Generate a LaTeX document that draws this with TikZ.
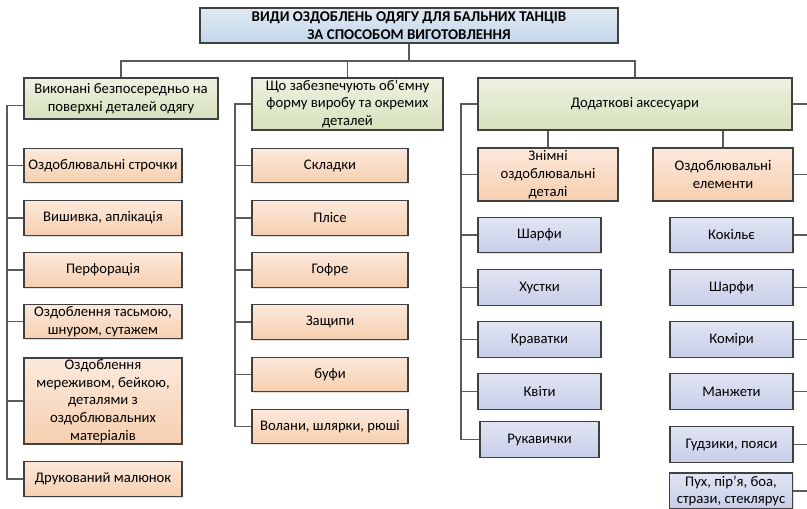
\documentclass[tikz,border=0pt]{standalone}
\usepackage{fontspec}
\setmainfont{Carlito}
\usetikzlibrary{shadows}

\begin{document}
\begin{tikzpicture}[x=0.75pt,y=-0.75pt]

\definecolor{bordercolor}{HTML}{404040}
\definecolor{linecolor}{HTML}{5A5A5A}
\definecolor{ttop}{HTML}{E0E9F3}
\definecolor{tbot}{HTML}{C3D6EA}
\definecolor{gtop}{HTML}{EDF2E1}
\definecolor{gbot}{HTML}{D6E1BC}
\definecolor{otop}{HTML}{FCE9DC}
\definecolor{obot}{HTML}{F6CFAF}
\definecolor{btop}{HTML}{E0E4F3}
\definecolor{bbot}{HTML}{C7CEE8}

\tikzstyle{box}=[draw=bordercolor, line width=0.8pt, inner sep=0pt, align=center,
  font=\fontsize{11}{13.3}\selectfont,
  drop shadow={shadow xshift=0.9pt, shadow yshift=-0.9pt, opacity=0.25}]
\tikzstyle{titlebox}=[box, top color=ttop, bottom color=tbot,
  font=\fontsize{11.2}{14}\selectfont\bfseries]
\tikzstyle{groupbox}=[box, top color=gtop, bottom color=gbot, minimum height=39pt]
\tikzstyle{itembox}=[box, top color=otop, bottom color=obot, minimum height=26pt]
\tikzstyle{accbox}=[box, top color=btop, bottom color=bbot, minimum height=26.5pt,
  minimum width=92.25pt]
\tikzstyle{conn}=[line width=0.8pt, color=linecolor]

%\draw[help lines] (0,0) grid[step=50] (807,509);
\useasboundingbox (0,0) rectangle (807,509);

% title and groups
\node[titlebox, minimum width=313.5pt, minimum height=26.25pt] (title) at (409, 25.5)
  {ВИДИ ОЗДОБЛЕНЬ ОДЯГУ ДЛЯ БАЛЬНИХ ТАНЦІВ\\ЗА СПОСОБОМ ВИГОТОВЛЕННЯ};
\node[groupbox, minimum width=145.5pt, minimum height=30.75pt] (g1) at (121, 98.5)
  {Виконані безпосередньо на\\поверхні деталей одягу};
\node[groupbox, minimum width=143.25pt] (g2) at (347.5, 104)
  {Що забезпечують об’ємну\\форму виробу та окремих\\деталей};
\node[groupbox, minimum width=235.5pt] (g3) at (635, 104) {Додаткові аксесуари};

% first column
\node[itembox, minimum width=118.5pt] (o1) at (103, 165.5) {Оздоблювальні строчки};
\node[itembox, minimum width=118.5pt] (o2) at (103, 218) {Вишивка, аплікація};
\node[itembox, minimum width=118.5pt] (o3) at (103, 270) {Перфорація};
\node[itembox, minimum width=118.5pt] (o4) at (103, 321.5) {Оздоблення тасьмою,\\шнуром, сутажем};
\node[itembox, minimum width=118.5pt, minimum height=64.5pt] (o5) at (103, 401)
  {Оздоблення\\мереживом, бейкою,\\деталями з\\оздоблювальних\\матеріалів};
\node[itembox, minimum width=118.5pt] (o6) at (103, 479) {Друкований малюнок};

% second column
\node[itembox, minimum width=117pt] (s1) at (330, 165.5) {Складки};
\node[itembox, minimum width=117pt] (s2) at (330, 218) {Плісе};
\node[itembox, minimum width=117pt] (s3) at (330, 270) {Гофре};
\node[itembox, minimum width=117pt] (s4) at (330, 322) {Защипи};
\node[itembox, minimum width=117pt] (s5) at (330, 374.5) {буфи};
\node[itembox, minimum width=117pt] (s6) at (330, 426.5) {Волани, шлярки, рюші};

% accessories
\node[itembox, minimum width=105pt, minimum height=39.75pt] (z1) at (548, 174.5)
  {Знімні\\оздоблювальні\\деталі};
\node[itembox, minimum width=105pt, minimum height=39.75pt] (z2) at (723, 174.5)
  {Оздоблювальні\\елементи};

\node[accbox] (b1) at (539.5, 235) {Шарфи};
\node[accbox] (b2) at (539.5, 287.5) {Хустки};
\node[accbox] (b3) at (539.5, 339.5) {Краватки};
\node[accbox] (b4) at (539.5, 391.5) {Квіти};
\node[accbox, minimum width=89.25pt] (b5) at (539.5, 439.5) {Рукавички};

\node[accbox] (e1) at (731.5, 235) {Кокільє};
\node[accbox] (e2) at (731.5, 287.5) {Шарфи};
\node[accbox] (e3) at (731.5, 339.5) {Коміри};
\node[accbox] (e4) at (731.5, 391.5) {Манжети};
\node[accbox] (e5) at (731.5, 444.5) {Гудзики, пояси};
\node[accbox, minimum height=27pt] (e6) at (731, 491) {Пух, пір’я, боа,\\стрази, стеклярус};

% connectors
\coordinate (bus) at (0, 61);
\coordinate (lrail) at (7, 0);
\coordinate (mrail) at (235, 0);
\coordinate (rrail) at (461, 0);
\coordinate (redge) at (807, 0);

\draw[conn] (title.south) -- (title.south |- bus);
\draw[conn] (g1.north) -- (g1.north |- bus) -| (g3.north);
\draw[conn] (g2.north) -- (g2.north |- bus);

\draw[conn] ([yshift=-5pt]g1.west) -| (o6.west -| lrail) -- (o6.west);
\foreach \n in {o1, o2, o3, o4, o5} {
    \draw[conn] (\n.west) -- (\n.west -| lrail);
};

\draw[conn] (g2.west) -| (s6.west -| mrail) -- (s6.west);
\foreach \n in {s1, s2, s3, s4, s5} {
    \draw[conn] (\n.west) -- (\n.west -| mrail);
};

\draw[conn] (g3.west) -| (b5.west -| rrail) -- (b5.west);
\foreach \n in {z1, b1, b2, b3, b4} {
    \draw[conn] (\n.west) -- (\n.west -| rrail);
};

\draw[conn] (z1.north) -- (z1.north |- g3.south);
\draw[conn] (z2.north) -- (z2.north |- g3.south);

\foreach \n in {g3, z2, e1, e2, e3, e4, e5, e6} {
    \draw[conn] (\n.east) -- (\n.east -| redge);
};

\end{tikzpicture}
\end{document}
